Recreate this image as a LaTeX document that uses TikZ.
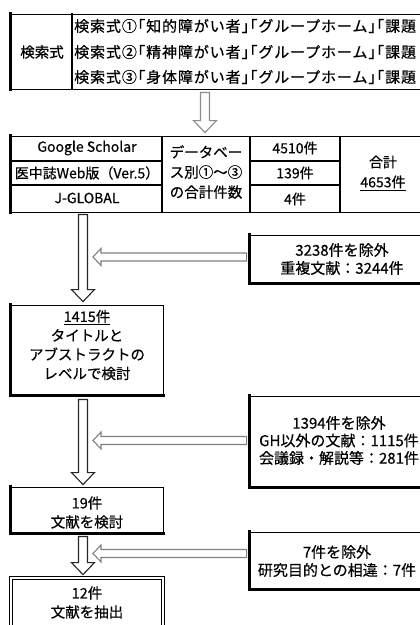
\documentclass[tikz,border=0pt]{standalone}
\usepackage{fontspec}
\setmainfont{Noto Sans CJK JP}[FakeBold=0.5]
\newfontfamily\qfont{Noto Sans CJK JP}[FakeBold=0.5,LetterSpace=6]
\usetikzlibrary{calc}
\tikzset{
  fr/.style={draw, line width=0.9pt, rectangle, inner sep=0pt},
  heavy/.style={line width=2.2pt, line cap=rect},
  txt/.style={inner sep=0pt, align=center, font=\fontsize{14.5}{19}\selectfont},
  qtxt/.style={inner sep=0pt, anchor=west, font=\qfont\fontsize{15}{15}\selectfont},
  extxt/.style={inner sep=0pt, align=center, font=\fontsize{15}{18}\selectfont},
  tabtxt/.style={inner sep=0pt, align=center, font=\fontsize{14}{20}\selectfont},
  blk/.style={draw=black!85, line width=1.1pt, fill=white, line join=miter},
  hblk/.style={draw=black!50, line width=1.1pt, fill=white, line join=miter},
}
% vertical hollow block arrow: #2 start, #3 tip (downwards)
\newcommand\vblockarrow[3][]{%
  \draw[blk,#1] let \p1=(#2), \p2=(#3) in
    (\x1-4.5pt,\y1) -- (\x1-4.5pt,\y2+12pt) -- (\x1-11.5pt,\y2+12pt) -- (\x1,\y2)
    -- (\x1+11.5pt,\y2+12pt) -- (\x1+4.5pt,\y2+12pt) -- (\x1+4.5pt,\y1) -- cycle;}
% horizontal hollow block arrow: #2 start, #3 tip (leftwards)
\newcommand\hblockarrow[3][]{%
  \draw[hblk,#1] let \p1=(#2), \p2=(#3) in
    (\x1,\y1+4pt) -- (\x2+8pt,\y1+4pt) -- (\x2+8pt,\y1+8.5pt) -- (\x2,\y1)
    -- (\x2+8pt,\y1-8.5pt) -- (\x2+8pt,\y1-4pt) -- (\x1,\y1-4pt) -- cycle;}

\begin{document}
\begin{tikzpicture}[x=1pt,y=-1pt]
\useasboundingbox (0,0) rectangle (420,625);
\clip (0,0) rectangle (420,625);

% ---------- search formulas ----------
\node[fr, minimum width=419pt, minimum height=75pt] (search) at (220.5,51.5) {};
\draw[heavy] (search.north west) -- (search.south west);
\draw[heavy] (72,14) -- (72,89);
\node[txt] (sk) at (42,52) {検索式};
\node[qtxt] (q1) at (74,26) {検索式①｢知的障がい者｣｢グループホーム｣｢課題};
\node[qtxt] (q2) at (74,52) {検索式②｢精神障がい者｣｢グループホーム｣｢課題};
\node[qtxt] (q3) at (74,77) {検索式③｢身体障がい者｣｢グループホーム｣｢課題};

% ---------- database table ----------
\node[fr, minimum width=419pt, minimum height=76pt] (tab) at (220.5,174) {};
\draw[heavy] (tab.north west) -- (tab.south west);
\draw[line width=1.2pt] (162,136) -- (162,212);
\draw[line width=1.2pt] (250,136) -- (250,212);
\draw[line width=1.2pt] (340,136) -- (340,212);
\draw[line width=1.4pt] (11,161) -- (162,161);
\draw[line width=1.4pt] (11,185) -- (162,185);
\draw[line width=1.4pt] (250,161) -- (340,161);
\draw[line width=1.4pt] (250,185) -- (340,185);
\node[tabtxt] (gs) at (87,148) {Google Scholar};
\node[tabtxt] (ich) at (87,173) {医中誌Web版（Ver.5）};
\node[tabtxt] (jg) at (87,198) {J-GLOBAL};
\node[tabtxt, font=\fontsize{14.5}{20}\selectfont] (dbs) at (206,172) {データベー\\ス別①～③\\の合計件数};
\node[tabtxt] (n1) at (295,148) {4510件};
\node[tabtxt] (n2) at (295,173) {139件};
\node[tabtxt] (n3) at (295,199) {4件};
\node[tabtxt] (tot) at (383,173) {合計\\\underline{4653件}};

% ---------- flow boxes ----------
\node[fr, minimum width=152pt, minimum height=90pt] (b1415) at (87,350) {};
\draw[heavy] (b1415.north west) -- (b1415.south west) -- (b1415.south east);
\node[txt] (t1415) at (87,345) {\underline{1415件}\\タイトルと\\アブストラクトの\\レベルで検討};

\node[fr, minimum width=152pt, minimum height=46pt] (b19) at (87,510) {};
\draw[heavy] (b19.north west) -- (b19.south west) -- (b19.south east);
\node[txt] (t19) at (87,512.5) {19件\\文献を検討};

\node[fr, double, double distance=1.6pt, line width=0.8pt, minimum width=152pt, minimum height=64pt] (b12) at (87,610) {};
\node[txt] (t12) at (87,602.5) {12件\\文献を抽出};

% ---------- exclusion boxes ----------
\node[fr, minimum width=180pt, minimum height=48pt] (ex1) at (340,259) {};
\draw[heavy] (ex1.north west) -- (ex1.south west) -- (ex1.south east);
\node[extxt] (tex1) at (342,259) {3238件を除外\\重複文献：3244件};

\node[fr, minimum width=180pt, minimum height=91pt] (ex2) at (340,441.5) {};
\draw[heavy] (ex2.north west) -- (ex2.south west) -- (ex2.south east);
\node[extxt, font=\fontsize{15}{17.5}\selectfont] (tex2) at (339,440.5) {1394件を除外\\GH以外の文献：1115件\\会議録・解説等：281件};

\node[fr, minimum width=180pt, minimum height=57pt] (ex3) at (340,560.5) {};
\draw[heavy] (ex3.north west) -- (ex3.south west) -- (ex3.south east);
\node[extxt] (tex3) at (337,561) {7件を除外\\研究目的との相違：7件};

% ---------- arrows ----------
\coordinate (a1s) at ($(search.south)+(-15.5,3)$);
\coordinate (a1t) at ($(tab.north)+(-15.5,-3)$);
\vblockarrow[draw=black!45]{a1s}{a1t}

\coordinate (a2s) at ($(tab.south -| b1415.north)+(-4,2)$);
\coordinate (a2t) at ($(b1415.north)+(-4,-3)$);
\vblockarrow{a2s}{a2t}

\coordinate (a3s) at ($(b1415.south)+(-4,4)$);
\coordinate (a3t) at ($(b19.north)+(-4,-2)$);
\vblockarrow{a3s}{a3t}

\coordinate (a4s) at ($(b19.south)+(-4,3)$);
\coordinate (a4t) at ($(b12.north)+(-4,-3)$);
\vblockarrow{a4s}{a4t}

\coordinate (h1s) at ($(ex1.west)+(-3,-2)$);
\coordinate (h1t) at ($(h1s -| a2s)+(10,0)$);
\hblockarrow{h1s}{h1t}

\coordinate (h2s) at ($(ex2.west)+(-3,-1)$);
\coordinate (h2t) at ($(h2s -| a3s)+(10,0)$);
\hblockarrow{h2s}{h2t}

\coordinate (h3s) at ($(ex3.west)+(-3,-7)$);
\coordinate (h3t) at ($(h3s -| a4s)+(10,0)$);
\hblockarrow{h3s}{h3t}
\end{tikzpicture}
\end{document}
